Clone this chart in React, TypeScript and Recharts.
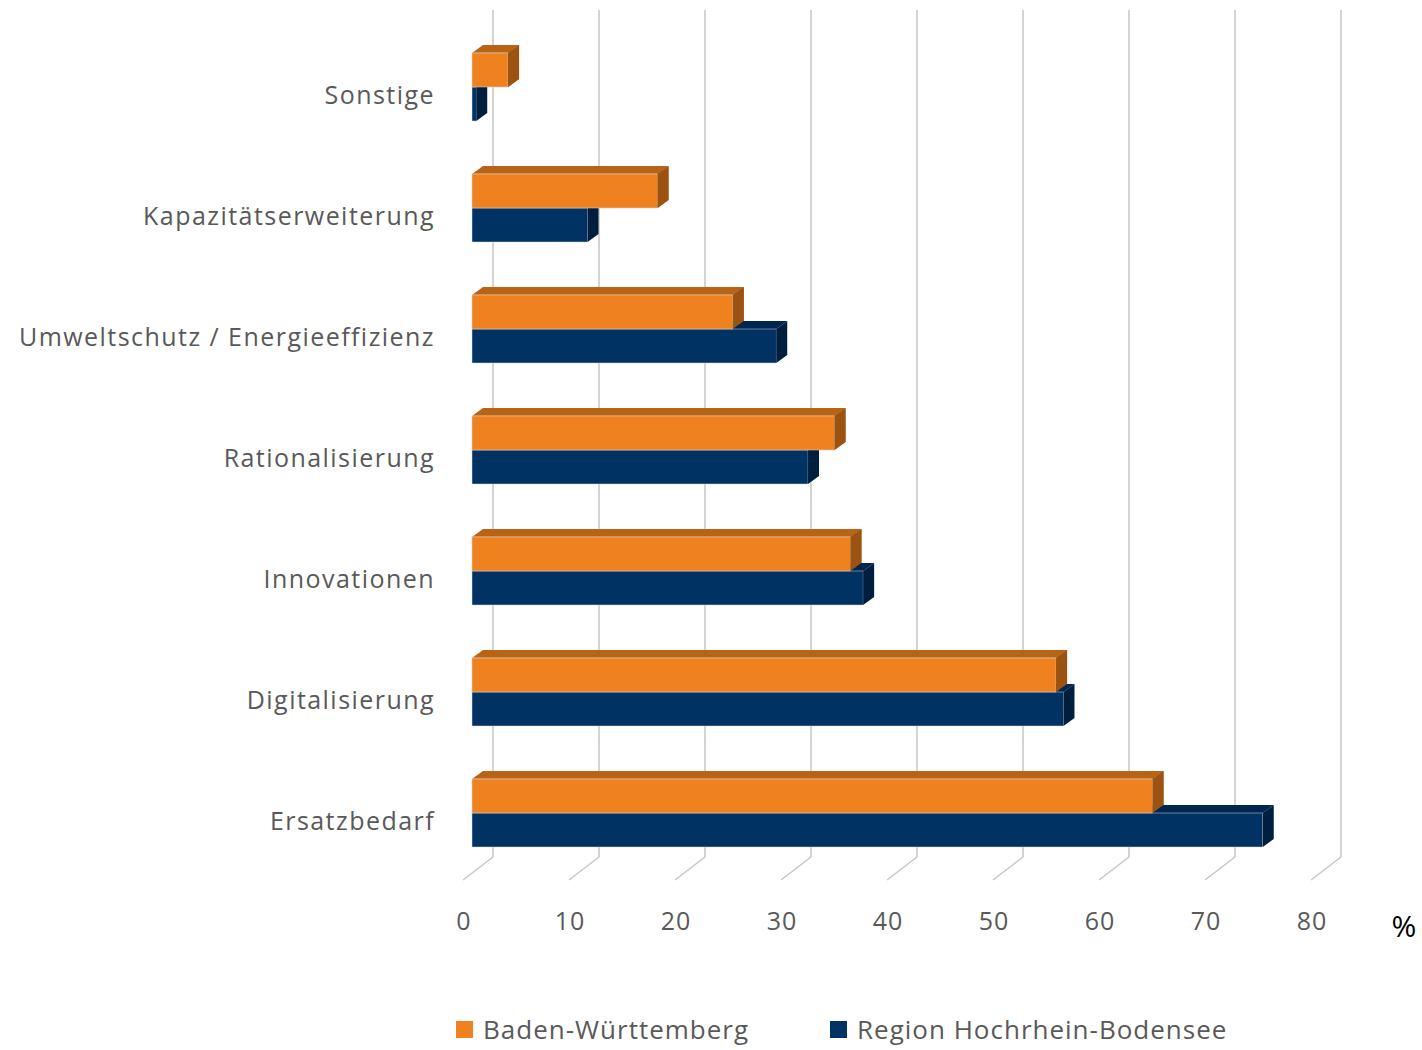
import { Bar, BarChart, CartesianGrid, Legend, XAxis, YAxis } from "recharts";

const categories = [
  "Sonstige",
  "Kapazitätserweiterung",
  "Umweltschutz / Energieeffizienz",
  "Rationalisierung",
  "Innovationen",
  "Digitalisierung",
  "Ersatzbedarf",
];
const badenWuerttemberg = [3.4, 17.5, 24.6, 34.2, 35.7, 55.1, 64.2];
const hochrheinBodensee = [0.4, 10.9, 28.7, 31.7, 36.9, 55.8, 74.6];
const xTicks = [0, 10, 20, 30, 40, 50, 60, 70, 80];

const data = categories.map((name, i) => ({
  name,
  bw: badenWuerttemberg[i],
  region: hochrheinBodensee[i],
}));

const FONT = "'Open Sans', Lato, sans-serif";
const TEXT = "#595959";
// depth of the 3d bars and of the back wall (oblique projection)
const DX = 11;
const DY = 8;
const WALL_BACK = { dx: 21, dy: -16 };
const WALL_FRONT = { dx: -9, dy: 7 };

const ORANGE = { front: "#EF821F", top: "#B96315", side: "#9C5312" };
const NAVY = { front: "#003263", top: "#002550", side: "#001F3F" };

type Box = { x: number; y: number; width: number; height: number };

function frontAndSide(b: Box, c: typeof ORANGE) {
  const { x, y, width: w, height: h } = b;
  return (
    <>
      <rect x={x} y={y} width={w} height={h} fill={c.front} stroke="#d9d9d9" strokeWidth={0.5} />
      <polygon
        points={`${x + w},${y} ${x + w + DX},${y - DY} ${x + w + DX},${y + h - DY} ${x + w},${y + h}`}
        fill={c.side}
      />
    </>
  );
}

function topFace(b: Box, c: typeof ORANGE) {
  const { x, y, width: w } = b;
  return (
    <polygon
      points={`${x},${y} ${x + DX},${y - DY} ${x + w + DX},${y - DY} ${x + w},${y}`}
      fill={c.top}
    />
  );
}

function OrangeBar(props: any) {
  const b = { x: props.x, y: props.y, width: props.width, height: props.height };
  return (
    <g>
      {topFace(b, ORANGE)}
      {frontAndSide(b, ORANGE)}
    </g>
  );
}

// the navy bar sits under the orange one, so the orange faces are laid over it again
function NavyBar(props: any) {
  const b = { x: props.x, y: props.y, width: props.width, height: props.height };
  const value = props.payload.region;
  const perUnit = value > 0 ? props.width / value : 0;
  const over = { x: props.x, y: props.y - props.height, width: props.payload.bw * perUnit, height: props.height };
  return (
    <g>
      {topFace(b, NAVY)}
      {frontAndSide(b, NAVY)}
      {perUnit > 0 && frontAndSide(over, ORANGE)}
    </g>
  );
}

function GridLine(p: any) {
  const { x1, y1, y2 } = p;
  return (
    <polyline
      key={`g-${x1}`}
      points={`${x1 + WALL_BACK.dx},${y1 + WALL_BACK.dy} ${x1 + WALL_BACK.dx},${y2 + WALL_BACK.dy} ${x1 + WALL_FRONT.dx},${y2 + WALL_FRONT.dy}`}
      fill="none"
      stroke="#c6c6c6"
      strokeWidth={1.5}
    />
  );
}

function XTick(p: any) {
  return (
    <text x={p.x + WALL_FRONT.dx + 1} y={p.y + 47} textAnchor="middle" dominantBaseline="central"
      fontFamily={FONT} fontSize={25} letterSpacing={1} fill={TEXT}>
      {p.payload.value}
    </text>
  );
}

function YTick(p: any) {
  return (
    <text x={p.x - 37} y={p.y + 7} textAnchor="end" dominantBaseline="central"
      fontFamily={FONT} fontSize={25} letterSpacing={1.45} fill={TEXT}>
      {p.payload.value}
    </text>
  );
}

const legendLeft = [456, 830];

function LegendContent(props: any) {
  const items = props.payload || [];
  return (
    <div style={{ position: "relative", height: 38, fontFamily: FONT, fontSize: 26, letterSpacing: 1, color: TEXT }}>
      {items.map((it: any, i: number) => (
        <div key={it.value} style={{ position: "absolute", left: legendLeft[i], top: 0, display: "flex", alignItems: "center", whiteSpace: "nowrap" }}>
          <span style={{ width: 17, height: 17, background: it.color, display: "inline-block", marginRight: 10 }} />
          <span>{it.value}</span>
        </div>
      ))}
    </div>
  );
}

export default function App() {
  return (
    <div style={{ position: "absolute", left: 0, top: 0, background: "#fff" }}>
      <BarChart
        width={1422}
        height={1050}
        data={data}
        layout="vertical"
        margin={{ top: 26, right: 102, bottom: 117, left: 12 }}
        barSize={34}
        barGap={0}
      >
        <CartesianGrid horizontal={false} vertical={GridLine} />
        <XAxis
          type="number"
          domain={[0, 80]}
          ticks={xTicks}
          height={60}
          axisLine={false}
          tickLine={false}
          tickSize={0}
          tickMargin={0}
          tick={XTick}
          label={{
            content: (lp: any) => {
              const vb = lp.viewBox;
              return (
                <text x={vb.x + vb.width + 84} y={vb.y + 52} textAnchor="middle" dominantBaseline="central"
                  fontFamily={FONT} fontSize={30} fill="#000">
                  %
                </text>
              );
            },
          }}
        />
        <YAxis
          type="category"
          dataKey="name"
          width={460}
          axisLine={false}
          tickLine={false}
          tickSize={0}
          tickMargin={0}
          interval={0}
          tick={YTick}
        />
        <Legend
          verticalAlign="middle"
          align="center"
          layout="horizontal"
          wrapperStyle={{ position: "absolute", top: 1011, left: 0, width: 1422 }}
          content={LegendContent}
        />
        <Bar dataKey="bw" name="Baden-Württemberg" fill={ORANGE.front} shape={OrangeBar} isAnimationActive={false} />
        <Bar dataKey="region" name="Region Hochrhein-Bodensee" fill={NAVY.front} shape={NavyBar} isAnimationActive={false} />
      </BarChart>
    </div>
  );
}
